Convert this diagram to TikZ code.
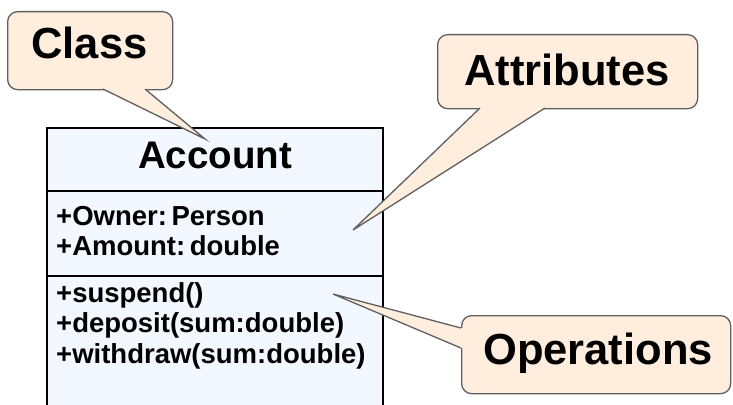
\documentclass[tikz,border=0pt]{standalone}
\usepackage{fontspec}
\setmainfont{Liberation Sans}
\usetikzlibrary{positioning}

\definecolor{classfill}{RGB}{243,247,255}
\definecolor{callfill}{RGB}{255,237,222}
\definecolor{callline}{RGB}{95,95,95}

\begin{document}
\begin{tikzpicture}[x=1pt, y=-1pt,
  member/.style={anchor=base west, inner sep=0pt, font=\fontsize{27.5}{32}\selectfont\bfseries},
  calltext/.style={anchor=base, inner sep=0pt, font=\fontsize{43.5}{50}\selectfont\bfseries},
  callbox/.style={draw=callline, fill=callfill, line width=1.3pt, rounded corners=10pt, anchor=north west, inner sep=0pt},
  pointer/.style={draw=callline, line width=1.3pt}]
  \clip (0,0) rectangle (733,404);

  % UML class box
  \node[draw, fill=classfill, line width=2.3pt, anchor=north west, inner sep=0pt,
        minimum width=336, minimum height=300] (account) at (46,127) {};
  \draw[line width=2.3pt] (46,191) -- (382,191);
  \draw[line width=2.3pt] (46,276) -- (382,276);
  \node[anchor=base, inner sep=0pt, font=\fontsize{38.5}{44}\selectfont\bfseries] (name) at (215,168) {Account};

  % attributes
  \node[member] (owner) at (56,225) {+Owner:\,Person};
  \node[member] (amount) at (56,255) {+Amount:\,double};

  % operations
  \node[member] (suspend) at (56,302) {+suspend()};
  \node[member] (deposit) at (56,332) {+deposit(sum:double)};
  \node[member] (withdraw) at (56,363) {+withdraw(sum:double)};

  % callout: Class
  \node[callbox, minimum width=165, minimum height=78] (classcall) at (7,11) {};
  \coordinate (classtip) at (205,139);
  \fill[callfill] (103,86) -- (103,89) -- (classtip) -- (145,89) -- (145,86) -- cycle;
  \draw[pointer] (103,89) -- (classtip) -- (145,89);
  \node[calltext] (classlabel) at (89.5,59) {Class};

  % callout: Attributes
  \node[callbox, minimum width=260, minimum height=74] (attrcall) at (437,34) {};
  \coordinate (attrtip) at (353,230);
  \fill[callfill] (480,105) -- (480,108) -- (attrtip) -- (545,108) -- (545,105) -- cycle;
  \draw[pointer] (480,108) -- (attrtip) -- (545,108);
  \node[calltext] (attrlabel) at (567,85) {Attributes};

  % callout: Operations
  \node[callbox, minimum width=269, minimum height=78] (opcall) at (461,315) {};
  \coordinate (optip) at (333,294);
  \fill[callfill] (464,328) -- (461,328) -- (optip) -- (461,348) -- (464,348) -- cycle;
  \draw[pointer] (461,328) -- (optip) -- (461,348);
  \node[calltext] (oplabel) at (598,364) {Operations};
\end{tikzpicture}
\end{document}
